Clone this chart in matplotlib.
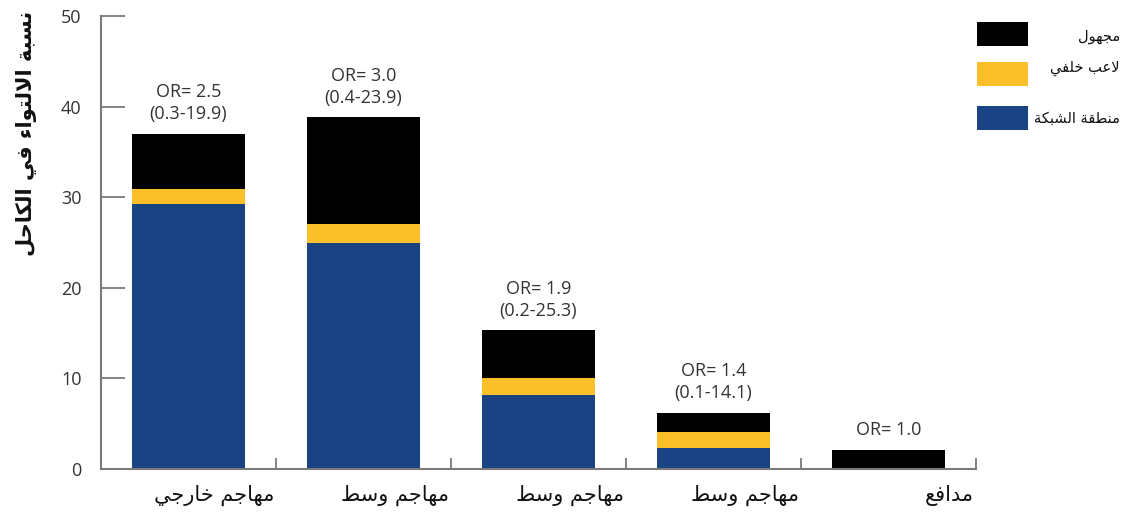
import matplotlib
matplotlib.use("Agg")
import matplotlib.pyplot as plt
from matplotlib.patches import Rectangle
import numpy as np

# Arabic presentation forms (isolated code point; +1 final, +2 initial, +3 medial)
_AR_BASE = {
    "ء": 0xFE80, "ا": 0xFE8D, "ب": 0xFE8F, "ة": 0xFE93, "ت": 0xFE95,
    "ج": 0xFE9D, "ح": 0xFEA1, "خ": 0xFEA5, "د": 0xFEA9, "ر": 0xFEAD,
    "س": 0xFEB1, "ش": 0xFEB5, "ط": 0xFEC1, "ع": 0xFEC9, "ف": 0xFED1,
    "ق": 0xFED5, "ك": 0xFED9, "ل": 0xFEDD, "م": 0xFEE1, "ن": 0xFEE5,
    "ه": 0xFEE9, "و": 0xFEED, "ي": 0xFEF1,
}
_AR_RIGHT_ONLY = set("اةدرو")


def _joins(c):
    return c in _AR_BASE and c != "ء"


def _dual(c):
    return _joins(c) and c not in _AR_RIGHT_ONLY


def ar(text):
    """Shape Arabic text into contextual forms and return it in visual order."""
    out = []
    i = 0
    while i < len(text):
        c = text[i]
        if c not in _AR_BASE:
            out.append(c)
            i += 1
            continue
        prev = text[i - 1] if i > 0 else ""
        nxt = text[i + 1] if i + 1 < len(text) else ""
        link_prev = _joins(c) and _dual(prev)
        if c == "ل" and nxt == "ا":
            out.append(chr(0xFEFC if link_prev else 0xFEFB))
            i += 2
            continue
        link_next = _dual(c) and _joins(nxt)
        if c == "ء":
            off = 0
        elif link_prev and link_next:
            off = 3
        elif link_next:
            off = 2
        elif link_prev:
            off = 1
        else:
            off = 0
        out.append(chr(_AR_BASE[c] + off))
        i += 1
    return "".join(reversed(out))


# data
positions = ["مهاجم خارجي", "مهاجم وسط", "مهاجم وسط", "مهاجم وسط", "مدافع"]
goal_area = [29.2, 25.0, 8.2, 2.3, 0.0]
full_back = [1.7, 2.0, 1.8, 1.8, 0.0]
unknown = [6.1, 11.8, 5.3, 2.1, 2.1]
odds_ratio = ["2.5", "3.0", "1.9", "1.4", "1.0"]
ci = ["0.3-19.9", "0.4-23.9", "0.2-25.3", "0.1-14.1", None]

series_names = ["منطقة الشبكة", "لاعب خلفي", "مجهول"]
series_colors = ["#1a4384", "#fbbf2a", "#000000"]

AR_FONT = "DejaVu Sans"
NUM_FONT = "Open Sans"
AXIS_GREY = "#7a7a7a"

fig = plt.figure(figsize=(11.26, 5.14), dpi=100)
ax = fig.add_axes([101 / 1126, 1 - 469 / 514, 875 / 1126, 453 / 514])

x = np.arange(len(positions))
width = 0.646
bottom = np.zeros(len(positions))
for vals, color in zip([goal_area, full_back, unknown], series_colors):
    ax.bar(x, vals, width, bottom=bottom, color=color, linewidth=0, zorder=2)
    bottom += np.array(vals)

# odds ratio labels above each stack
for xi, top, o, c in zip(x, bottom, odds_ratio, ci):
    label = f"OR= {o}" if c is None else f"OR= {o}\n({c})"
    ax.text(xi, top + 1.2, label, ha="center", va="bottom", fontsize=13,
            family=NUM_FONT, color="#333333", linespacing=1.25)

ax.set_xlim(-0.5, len(positions) - 0.5)
ax.set_ylim(0, 50)
ax.set_yticks(range(0, 51, 10))
ax.tick_params(axis="y", direction="in", length=17, width=1.3, color=AXIS_GREY,
               labelsize=13, labelcolor="#333333", pad=14)
for t in ax.get_yticklabels():
    t.set_family(NUM_FONT)

# category separators on the x axis, labels placed right-aligned under bars
ax.set_xticks(np.arange(len(positions) + 1) - 0.5)
ax.set_xticklabels([])
ax.tick_params(axis="x", direction="in", length=8, width=1.3, color=AXIS_GREY)
for xi, name in zip(x, positions):
    ax.text(xi + 0.49, -1.8, ar(name), ha="right", va="top", fontsize=15,
            family=AR_FONT, color="#111111")

for side in ("top", "right"):
    ax.spines[side].set_visible(False)
for side in ("left", "bottom"):
    ax.spines[side].set_color(AXIS_GREY)
    ax.spines[side].set_linewidth(1.5)

fig.text(27 / 1126, 1 - 133 / 514, ar("نسبة الالتواء في الكاحل"), rotation=90,
         ha="center", va="center", fontsize=15, fontweight="bold",
         family=AR_FONT, color="#111111")

# legend: swatch on the left, label right-aligned on the right
legend_rows = [("مجهول", "#000000", 22, 36),
               ("لاعب خلفي", "#fbbf2a", 62, 68),
               ("منطقة الشبكة", "#1a4384", 106, 118)]
for name, color, y_top, y_text in legend_rows:
    fig.patches.append(Rectangle((977 / 1126, 1 - (y_top + 24) / 514),
                                 51 / 1126, 24 / 514, transform=fig.transFigure,
                                 facecolor=color, edgecolor="none"))
    fig.text(1120 / 1126, 1 - y_text / 514, ar(name), ha="right", va="center",
             fontsize=10.5, family=AR_FONT, color="#111111")

fig.savefig("out.png", dpi=100)
